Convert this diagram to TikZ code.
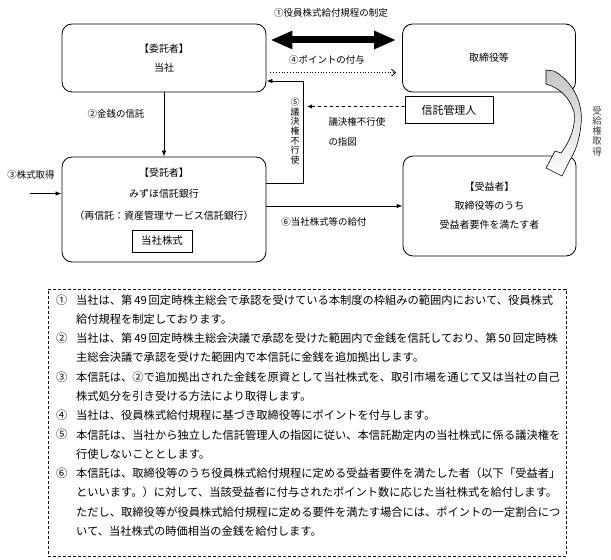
\documentclass[tikz,border=0pt]{standalone}
\usepackage{fontspec}
\setmainfont{Noto Sans CJK JP}
\usetikzlibrary{arrows.meta,positioning,shapes}

\tikzset{
  party/.style={draw, rounded corners=10bp, line width=0.8bp, align=center, font=\fontsize{10}{19}\selectfont},
  plainbox/.style={draw, line width=0.8bp, font=\fontsize{10.5}{12}\selectfont},
  flow/.style={-{Latex[length=6bp,width=4.5bp]}, line width=0.8bp},
  lbl/.style={font=\fontsize{9.5}{12}\selectfont},
  vlbl/.style={align=center, inner sep=0pt, font={\fontsize{9}{9.7}\selectfont\lineskiplimit=-20pt}},
  % multi-line nodes sit on the baseline of their last line
  note/.style={anchor=base west, align=left, inner sep=0pt, font={\fontsize{11.3}{19.25}\selectfont\lineskiplimit=-20pt}},
}

\begin{document}
\begin{tikzpicture}[x=1bp, y=-1bp]
    \useasboundingbox (0,0) rectangle (611,560);

    % parties
    \node[party, minimum width=204bp, minimum height=68bp] (itaku) at (164,58) {【委託者】\\当社};
    \node[party, minimum width=173bp, minimum height=68bp] (torishimari) at (489,58) {取締役等};
    \node[party, minimum width=204bp, minimum height=105bp] (jutaku) at (164,209.5) {};
    \node[align=center, font={\fontsize{10}{21.5}\selectfont}] (jutakutext) at (164,194) {【受託者】\\みずほ信託銀行\\（再信託：資産管理サービス信託銀行）};
    \node[plainbox, minimum width=60bp, minimum height=22bp] (kabushiki) at (162,241) {当社株式};
    \node[party, minimum width=173bp, minimum height=100bp] (jueki) at (489.5,206) {【受益者】\\取締役等のうち\\受益者要件を満たす者};
    \node[plainbox, font=\fontsize{11}{12}\selectfont, minimum width=88bp, minimum height=27bp] (kanri) at (449,110) {信託管理人};

    % (1) rules
    \draw[line width=7bp, {Triangle[length=22bp,width=17bp]}-{Triangle[length=22bp,width=17bp]}, shorten <=4bp, shorten >=6bp]
        ([yshift=18bp]itaku.east) -- ([yshift=18bp]torishimari.west);
    \node[lbl] (l1) at (331,13) {①役員株式給付規程の制定};

    % (4) points
    \draw[dotted, line width=0.8bp, -{Straight Barb[length=4bp,width=7bp]}, shorten <=4bp, shorten >=6bp]
        ([yshift=-14.7bp]itaku.east) -- ([yshift=-14.7bp]torishimari.west);
    \node[lbl] (l4) at (327,60) {④ポイントの付与};

    % (2) money
    \draw[flow] (itaku) -- (jutaku);
    \node[lbl] (l2) at (116,114) {②金銭の信託};

    % (3) shares
    \coordinate (kabu) at (30,193.5);
    \draw[flow] (kabu) -- (kabu -| jutaku.west);
    \node[lbl] (l3) at (31,175) {③株式取得};

    % (5) voting
    \draw[flow] ([yshift=26.5bp]jutaku.east) -- ++(37,0) |- ([yshift=-23bp]itaku.east);
    \node[vlbl] (l5) at (295,131) {⑤\\議\\決\\権\\不\\行\\使};
    \coordinate (shizu) at (307,106.5);
    \draw[dashed, line width=0.9bp, -{Latex[length=5bp,width=4.5bp]}] ([yshift=3.5bp]kanri.west) -- (shizu);
    \node[lbl, align=left, anchor=west, font={\fontsize{9.5}{20}\selectfont}] (lshizu) at (325,132) {議決権不行使\\の指図};

    % (6) delivery
    \draw[flow] ([yshift=3.5bp]jutaku.east) -- ([yshift=3.5bp]jutaku.east -| jueki.west);
    \node[lbl] (l6) at (324,222) {⑥当社株式等の給付};

    % entitlement
    \shade[draw=black, line width=0.6bp, top color=gray!45, bottom color=white]
        (546,70) -- (554,71) .. controls (570,80) and (584,100) .. (581,125)
        .. controls (579,142) and (575,152) .. (570,160) -- (562,176) -- (546,168) -- (555,151) -- (561,153)
        .. controls (571,140) and (576,125) .. (574,112) .. controls (570,98) and (560,88) .. (546,84) -- cycle;
    \node[vlbl, text=black!75, font={\fontsize{9.5}{10.3}\selectfont\lineskiplimit=-20pt}] (lju) at (597,131) {受\\給\\権\\取\\得};

    % notes
    \node[draw, dash pattern=on 3bp off 2bp, line width=0.7bp, minimum width=518bp, minimum height=267bp] (notes) at (307,422.5) {};
    \node[note] (n1) at (56,304.2) {①};
    \node[note] (t1) at (76,323.45) {当社は、第\,49\,回定時株主総会で承認を受けている本制度の枠組みの範囲内において、役員株式\\給付規程を制定しております。};
    \node[note] (n2) at (56,342.7) {②};
    \node[note] (t2) at (76,361.95) {当社は、第\,49\,回定時株主総会決議で承認を受けた範囲内で金銭を信託しており、第\,50\,回定時株\\主総会決議で承認を受けた範囲内で本信託に金銭を追加拠出します。};
    \node[note] (n3) at (56,381.2) {③};
    \node[note] (t3) at (76,400.45) {本信託は、②で追加拠出された金銭を原資として当社株式を、取引市場を通じて又は当社の自己\\株式処分を引き受ける方法により取得します。};
    \node[note] (n4) at (56,419.7) {④};
    \node[note] (t4) at (76,419.7) {当社は、役員株式給付規程に基づき取締役等にポイントを付与します。};
    \node[note] (n5) at (56,438.95) {⑤};
    \node[note] (t5) at (76,458.2) {本信託は、当社から独立した信託管理人の指図に従い、本信託勘定内の当社株式に係る議決権を\\行使しないこととします。};
    \node[note] (n6) at (56,477.45) {⑥};
    \node[note] (t6) at (76,535.2) {本信託は、取締役等のうち役員株式給付規程に定める受益者要件を満たした者（以下「受益者」\\といいます。）に対して、当該受益者に付与されたポイント数に応じた当社株式を給付します。\\ただし、取締役等が役員株式給付規程に定める要件を満たす場合には、ポイントの一定割合につ\\いて、当社株式の時価相当の金銭を給付します。};
\end{tikzpicture}
\end{document}
